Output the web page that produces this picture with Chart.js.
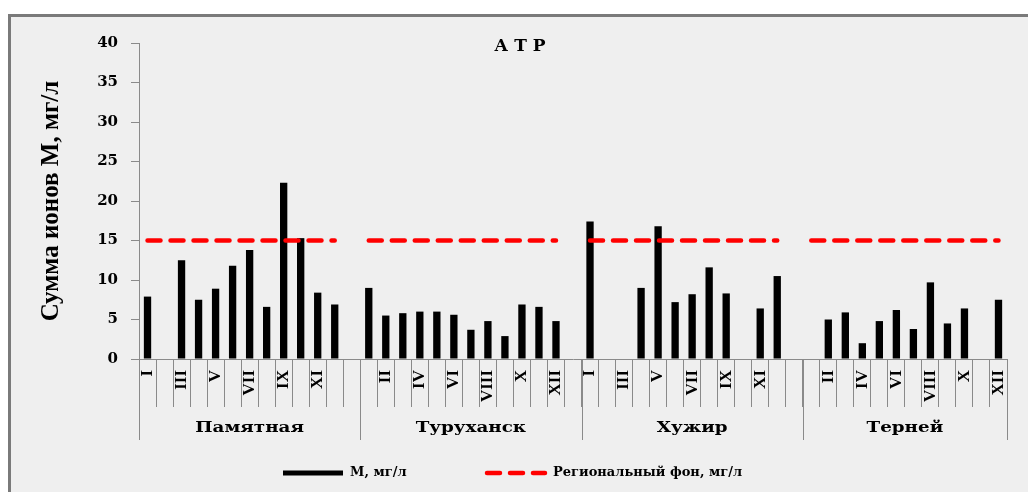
<!DOCTYPE html>
<html>
<head>
<meta charset="utf-8">
<script src="https://cdn.jsdelivr.net/npm/chart.js@4.4.1/dist/chart.umd.min.js"></script>
<style>
  html, body { margin: 0; padding: 0; background: #fff; overflow: hidden; }
  #canvasContainer { width: 1028px; height: 492px; }
</style>
</head>
<body>
<div id="canvasContainer"><canvas id="myCanvas" width="1028" height="492"></canvas></div>
<script>
const months = ['I', 'II', 'III', 'IV', 'V', 'VI', 'VII', 'VIII', 'IX', 'X', 'XI', 'XII'];
const stations = ['Памятная', 'Туруханск', 'Хужир', 'Терней'];
const pamyatnaya = [7.9, null, 12.5, 7.5, 8.9, 11.8, 13.8, 6.6, 22.3, 15.3, 8.4, 6.9];
const turukhansk = [9.0, 5.5, 5.8, 6.0, 6.0, 5.6, 3.7, 4.8, 2.9, 6.9, 6.6, 4.8];
const khuzhir = [17.4, null, null, 9.0, 16.8, 7.2, 8.2, 11.6, 8.3, null, 6.4, 10.5];
const terney = [null, 5.0, 5.9, 2.0, 4.8, 6.2, 3.8, 9.7, 4.5, 6.4, null, 7.5];
const regionalFon = [15, 15, 15, 15, 15, 15, 15, 15, 15, 15, 15, 15];

// flatten into one category axis, a blank slot after every station but the last
const stationValues = [pamyatnaya, turukhansk, khuzhir, terney];
let labelsArr = [];
let barArr = [];
let fonArr = [];
let groupStart = [];
stationValues.forEach((vals, g) => {
  groupStart.push(labelsArr.length);
  months.forEach((m, i) => {
    labelsArr.push(m);
    barArr.push(vals[i]);
    fonArr.push(regionalFon[i]);
  });
  if (g < stationValues.length - 1) {
    labelsArr.push('');
    barArr.push(null);
    fonArr.push(null);
  }
});
groupStart.push(labelsArr.length);

const gray = '#8a8a8a';

const decorPlugin = {
  id: 'decor',
  beforeDraw(chart) {
    const c = chart.ctx;
    c.save();
    c.fillStyle = '#ffffff';
    c.fillRect(0, 0, chart.width, chart.height);
    c.fillStyle = '#efefef';
    c.fillRect(9, 16, chart.width, chart.height);
    c.fillStyle = '#7a7a7a';
    c.fillRect(8, 14, chart.width, 3);
    c.fillRect(8, 14, 3, chart.height);
    c.restore();
  },
  afterDraw(chart) {
    const c = chart.ctx;
    const x = chart.scales.x;
    const top = chart.chartArea.bottom;
    c.save();
    // long separators between stations + station names
    c.strokeStyle = gray;
    c.lineWidth = 1;
    for (let g = 0; g < groupStart.length; g++) {
      const px = Math.round(x.getPixelForValue(groupStart[g] - 0.5)) + 0.5;
      c.beginPath();
      c.moveTo(px, top);
      c.lineTo(px, 440);
      c.stroke();
    }
    c.fillStyle = '#000';
    c.font = 'bold 15px "DejaVu Serif"';
    c.textAlign = 'center';
    c.textBaseline = 'middle';
    stations.forEach((name, g) => {
      const cx = (x.getPixelForValue(groupStart[g] - 0.5) + x.getPixelForValue(groupStart[g + 1] - 0.5)) / 2;
      c.save();
      c.translate(cx, 428);
      c.scale(1.22, 1);   // the original text is stretched sideways
      c.fillText(name, 0, 0);
      c.restore();
    });

    // title
    c.font = 'bold 17px "DejaVu Serif"';
    c.letterSpacing = '6px';
    c.fillText('АТР', 523, 47);
    c.letterSpacing = '0px';

    // legend
    const ds = chart.data.datasets;
    c.textAlign = 'left';
    c.font = 'bold 13px "DejaVu Serif"';
    c.lineWidth = 5;
    c.strokeStyle = ds[1].backgroundColor;
    c.beginPath();
    c.moveTo(283, 473);
    c.lineTo(343, 473);
    c.stroke();
    c.fillText(ds[1].label, 350, 473);
    c.lineWidth = ds[0].borderWidth;
    c.strokeStyle = ds[0].borderColor;
    c.lineCap = 'round';
    c.setLineDash(ds[0].borderDash);
    c.beginPath();
    c.moveTo(487, 473);
    c.lineTo(545, 473);
    c.stroke();
    c.setLineDash([]);
    c.fillText(ds[0].label, 553, 473);
    c.restore();
  }
};

const ctx = document.getElementById('myCanvas').getContext('2d');
const myChart = new Chart(ctx, {
  type: 'bar',
  data: {
    labels: labelsArr,
    datasets: [{
      type: 'line',
      label: 'Региональный фон, мг/л',
      data: fonArr,
      borderColor: '#ff0000',
      borderWidth: 4.5,
      borderDash: [13, 10],
      borderCapStyle: 'round',
      pointRadius: 0,
      spanGaps: false,
      order: 0
    }, {
      label: 'М, мг/л',
      data: barArr,
      backgroundColor: '#000000',
      barPercentage: 0.43,
      categoryPercentage: 1,
      order: 1
    }]
  },
  options: {
    responsive: false,
    animation: false,
    layout: { padding: { left: 0, right: 21, top: 43, bottom: 52 } },
    plugins: {
      legend: { display: false },
      title: { display: false },
      tooltip: { enabled: false }
    },
    scales: {
      x: {
        offset: true,
        grid: { offset: true, drawOnChartArea: false, tickLength: 48, color: gray },
        border: { color: gray },
        ticks: {
          autoSkip: false,
          minRotation: 90,
          maxRotation: 90,
          padding: -37,
          color: '#000',
          font: { family: 'Liberation Serif', size: 17, weight: 'bold' },
          callback: (v, i) => (i % 2 === 0 ? labelsArr[i] : '')
        },
        afterFit: s => { s.height = 81; }
      },
      y: {
        min: 0,
        max: 40,
        ticks: {
          stepSize: 5,
          padding: 13,
          color: '#000',
          font: { family: 'DejaVu Serif', size: 15, weight: 'bold' }
        },
        grid: { drawOnChartArea: false, tickLength: 8, color: gray },
        border: { color: gray },
        title: {
          display: true,
          text: 'Сумма ионов М, мг/л',
          color: '#000',
          font: { family: 'Liberation Serif', size: 25, weight: 'bold' },
          padding: { top: 37, bottom: 0 }
        },
        afterFit: s => { s.width = 139; }
      }
    }
  },
  plugins: [decorPlugin]
});
</script>
</body>
</html>
